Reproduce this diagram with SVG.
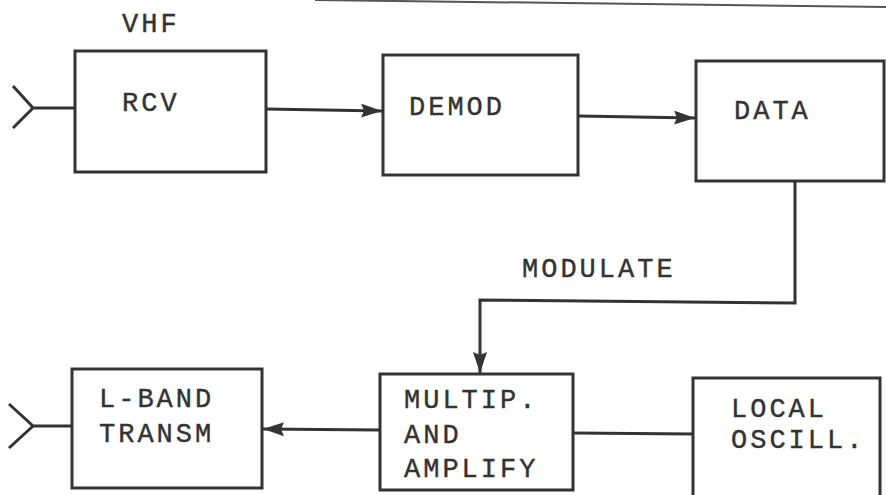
<svg xmlns="http://www.w3.org/2000/svg" width="886" height="495" viewBox="0 0 886 495">
<defs>
<style>
.box{fill:none;stroke:#333;stroke-width:3}
.ln{fill:none;stroke:#333;stroke-width:3}
.t{font-family:"Liberation Mono","Courier New",monospace;font-size:27px;letter-spacing:3px;fill:#333;stroke:#333;stroke-width:0.4}
</style>
<marker id="ah" viewBox="0 0 21 14" refX="21" refY="7" markerWidth="7" markerHeight="4.67" markerUnits="strokeWidth" orient="auto">
<path d="M0,0 L21,7 L0,14 L3,7 Z" fill="#333"/>
</marker>
</defs>
<rect width="886" height="495" fill="#fff"/>
<line x1="315" y1="0" x2="886" y2="7" stroke="#555" stroke-width="2"/>
<g id="vhf-label"><text class="t" x="122" y="32">VHF</text></g>
<g id="antenna-rx"><path class="ln" d="M13,86 L33,108 L13,128 M33,108 L75,108"/></g>
<g id="rcv"><rect class="box" x="75" y="51" width="191" height="121"/><text class="t" x="122" y="111">RCV</text></g>
<g id="demod"><rect class="box" x="383" y="55" width="195" height="120"/><text class="t" x="409" y="115">DEMOD</text></g>
<g id="data"><rect class="box" x="696" y="61" width="188" height="120"/><text class="t" x="734" y="119">DATA</text></g>
<g id="multip"><rect class="box" x="380" y="374" width="193" height="116"/><text class="t" x="404" y="408">MULTIP.</text><text class="t" x="404" y="443">AND</text><text class="t" x="404" y="477">AMPLIFY</text></g>
<g id="local"><rect class="box" x="693" y="378" width="187" height="130"/><text class="t" x="731" y="417">LOCAL</text><text class="t" x="731" y="448">OSCILL.</text></g>
<g id="lband"><rect class="box" x="72" y="369" width="190" height="119"/><text class="t" x="99" y="407">L-BAND</text><text class="t" x="99" y="442">TRANSM</text></g>
<g id="antenna-tx"><path class="ln" d="M9,404 L33,426 L9,448 M33,426 L72,426"/></g>
<g id="connectors">
<path class="ln" d="M266,109 L382,111" marker-end="url(#ah)"/>
<path class="ln" d="M578,116 L695,118" marker-end="url(#ah)"/>
<path class="ln" d="M795,181 L795,303 L480,300 L480,373" marker-end="url(#ah)"/>
<path class="ln" d="M380,430 L263,429" marker-end="url(#ah)"/>
<path class="ln" d="M573,433 L693,434"/>
<text class="t" x="522" y="277">MODULATE</text>
</g>
</svg>
